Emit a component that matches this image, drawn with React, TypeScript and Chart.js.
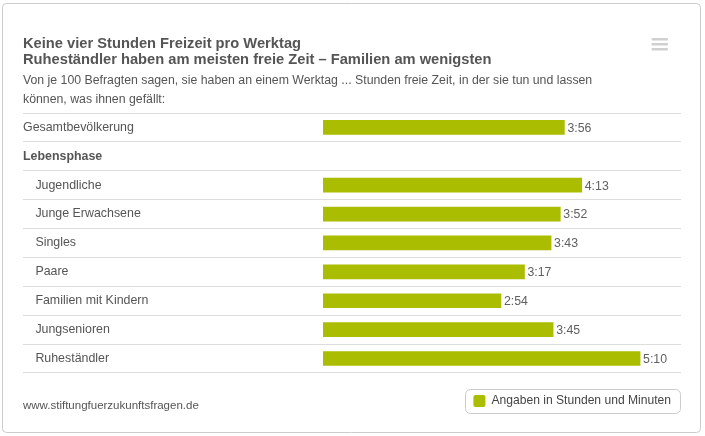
import React, { useEffect, useRef } from 'react';
import { Chart, registerables } from 'chart.js';

Chart.register(...registerables);

// ---- data ----
const categories = [
  'Gesamtbevölkerung',
  'Lebensphase',
  'Jugendliche',
  'Junge Erwachsene',
  'Singles',
  'Paare',
  'Familien mit Kindern',
  'Jungsenioren',
  'Ruheständler',
];
const indentedRows = [false, false, true, true, true, true, true, true, true];
const headerRows = [false, true, false, false, false, false, false, false, false];
// free time per weekday in minutes (3:56 -> 236)
const minutesValues: (number | null)[] = [236, null, 253, 232, 223, 197, 174, 225, 310];
const titleLines = [
  'Keine vier Stunden Freizeit pro Werktag',
  'Ruheständler haben am meisten freie Zeit – Familien am wenigsten',
];
const subtitleLines = [
  'Von je 100 Befragten sagen, sie haben an einem Werktag ... Stunden freie Zeit, in der sie tun und lassen',
  'können, was ihnen gefällt:',
];
const seriesLabel = 'Angaben in Stunden und Minuten';
const creditText = 'www.stiftungfuerzukunftsfragen.de';
const axisMin = 0;
const axisMax = 350;

const FONT = '"Liberation Sans", Arial, sans-serif';
const GREEN = '#abbd00';
const TEXT = '#555555';

function fmt(v: number): string {
  const h = Math.floor(v / 60);
  const m = v % 60;
  return `${h}:${String(m).padStart(2, '0')}`;
}

function roundRect(ctx: CanvasRenderingContext2D, x: number, y: number, w: number, h: number, r: number) {
  ctx.beginPath();
  ctx.moveTo(x + r, y);
  ctx.lineTo(x + w - r, y);
  ctx.arcTo(x + w, y, x + w, y + r, r);
  ctx.lineTo(x + w, y + h - r);
  ctx.arcTo(x + w, y + h, x + w - r, y + h, r);
  ctx.lineTo(x + r, y + h);
  ctx.arcTo(x, y + h, x, y + h - r, r);
  ctx.lineTo(x, y + r);
  ctx.arcTo(x, y, x + r, y, r);
  ctx.closePath();
}

const decorPlugin = {
  id: 'decor',
  beforeDraw(chart: any) {
    const ctx = chart.ctx as CanvasRenderingContext2D;
    ctx.save();
    ctx.fillStyle = '#ffffff';
    ctx.fillRect(0, 0, chart.width, chart.height);
    // card border
    roundRect(ctx, 2.5, 3.5, 698, 429, 4);
    ctx.strokeStyle = '#cccccc';
    ctx.lineWidth = 1;
    ctx.stroke();
    // menu icon
    ctx.fillStyle = '#d0d0d0';
    for (let i = 0; i < 3; i++) {
      roundRect(ctx, 651.5, 38 + i * 5, 16.5, 2.5, 1);
      ctx.fill();
    }
    ctx.restore();
  },
  afterDraw(chart: any) {
    const ctx = chart.ctx as CanvasRenderingContext2D;
    ctx.save();
    // credit
    ctx.font = `11.5px ${FONT}`;
    ctx.fillStyle = TEXT;
    ctx.textAlign = 'left';
    ctx.textBaseline = 'middle';
    ctx.fillText(creditText, 23, 405.5);
    // legend frame
    const hb = chart.legend && chart.legend.legendHitBoxes && chart.legend.legendHitBoxes[0];
    if (hb) {
      const x0 = hb.left - 8;
      const y0 = hb.top - 6;
      const x1 = chart.chartArea.right;
      const y1 = hb.top + hb.height + 6;
      roundRect(ctx, Math.round(x0) + 0.5, Math.round(y0) + 0.5, Math.round(x1 - x0) - 1, Math.round(y1 - y0), 5);
      ctx.strokeStyle = '#cccccc';
      ctx.lineWidth = 1;
      ctx.stroke();
    }
    ctx.restore();
  },
  afterDatasetsDraw(chart: any) {
    const ctx = chart.ctx as CanvasRenderingContext2D;
    const meta = chart.getDatasetMeta(0);
    ctx.save();
    ctx.font = `12.3px ${FONT}`;
    ctx.fillStyle = '#606060';
    ctx.textAlign = 'left';
    ctx.textBaseline = 'middle';
    meta.data.forEach((el: any, i: number) => {
      const v = minutesValues[i];
      if (v == null) return;
      ctx.fillText(fmt(v), el.x + 3, el.y + 1);
    });
    ctx.restore();
  },
};

export default function App() {
  const ref = useRef<HTMLCanvasElement | null>(null);

  useEffect(() => {
    if (!ref.current) return;
    const labels = categories.map((c, i) => (indentedRows[i] ? '\u2003' + c : c));
    const chart = new Chart(ref.current, {
      type: 'bar',
      data: {
        labels,
        datasets: [
          {
            label: seriesLabel,
            data: minutesValues,
            backgroundColor: GREEN,
            borderWidth: 0,
            barThickness: 14,
            borderRadius: 0,
          } as any,
        ],
      },
      plugins: [decorPlugin],
      options: {
        indexAxis: 'y',
        responsive: false,
        animation: false,
        devicePixelRatio: 1,
        layout: { padding: { left: 23, right: 24, top: 36, bottom: 19 } },
        scales: {
          x: {
            type: 'linear',
            min: axisMin,
            max: axisMax,
            display: true,
            ticks: { display: false },
            grid: { display: false },
            border: { display: false },
            afterFit: (scale: any) => {
              scale.height = 12;
            },
          },
          y: {
            type: 'category',
            border: { display: false },
            grid: {
              offset: true,
              color: '#dddddd',
              lineWidth: 1,
              drawTicks: true,
              tickLength: 300,
            },
            ticks: {
              crossAlign: 'far',
              color: TEXT,
              autoSkip: false,
              font: (c: any) => ({
                family: FONT,
                size: 12.4,
                weight: headerRows[c.index] ? 'bold' : 'normal',
              }),
            },
            afterFit: (scale: any) => {
              scale.width = 300;
            },
          },
        },
        plugins: {
          title: {
            display: true,
            text: titleLines,
            align: 'start',
            color: TEXT,
            font: { family: FONT, size: 14.7, weight: 'bold', lineHeight: 16 / 14.7 },
            padding: { top: 0, bottom: 3 },
          },
          subtitle: {
            display: true,
            text: subtitleLines,
            align: 'start',
            color: TEXT,
            font: { family: FONT, size: 12.3, weight: 'normal', lineHeight: 19 / 12.3 },
            padding: { top: 0, bottom: 4 },
          },
          legend: {
            display: true,
            position: 'bottom',
            align: 'end',
            labels: {
              color: '#444444',
              font: { family: FONT, size: 12.1 },
              boxWidth: 12,
              boxHeight: 12,
              padding: 10,
              useBorderRadius: true,
              borderRadius: 2,
            },
          },
          tooltip: { enabled: false },
        },
      } as any,
    });
    return () => chart.destroy();
  }, []);

  return (
    <div style={{ position: 'fixed', left: 0, top: 0, width: 705, height: 436 }}>
      <canvas ref={ref} width={705} height={436} style={{ display: 'block', width: 705, height: 436 }} />
    </div>
  );
}
